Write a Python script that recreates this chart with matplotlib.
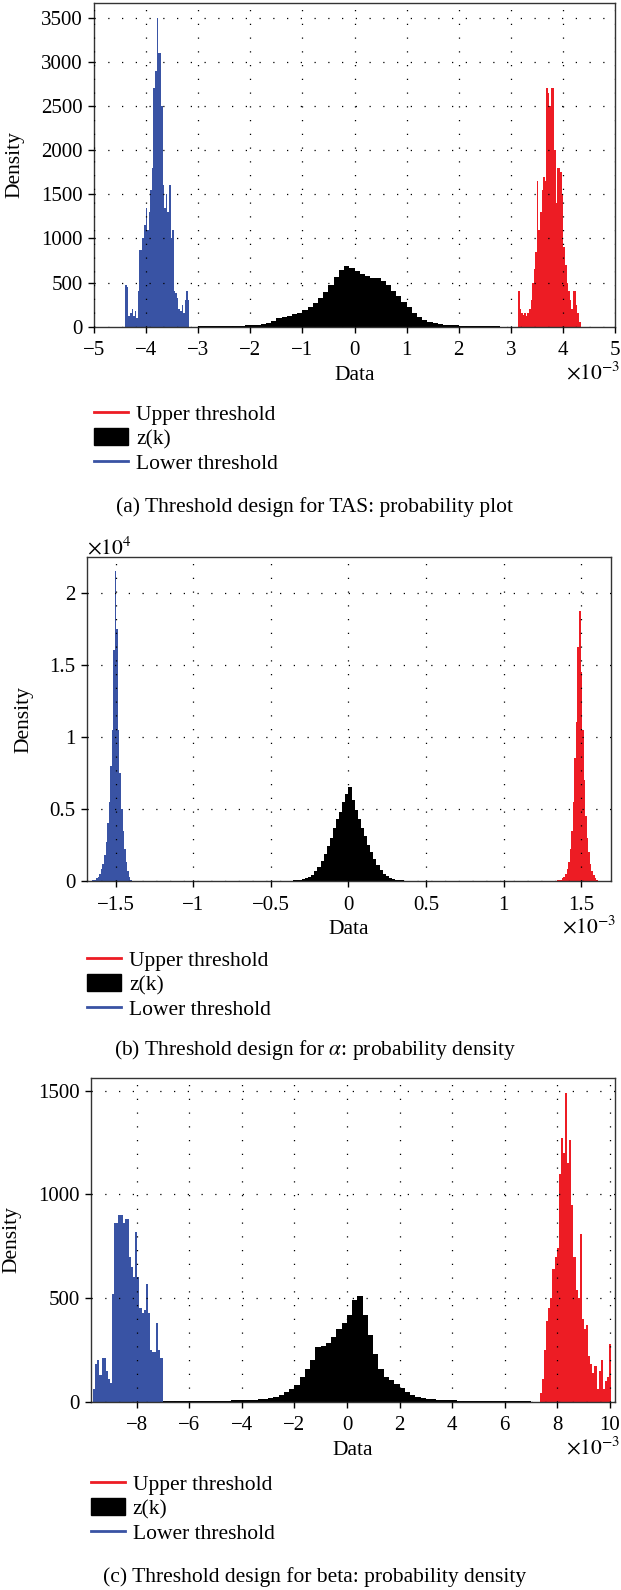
import numpy as np
import matplotlib
matplotlib.use("Agg")
import matplotlib.pyplot as plt
from matplotlib.lines import Line2D
from matplotlib.patches import Patch
from matplotlib.ticker import FuncFormatter

plt.rcParams["font.family"] = ["Liberation Serif", "DejaVu Serif"]
plt.rcParams["mathtext.fontset"] = "stix"

# ---- data (x in units of 1e-3) ----
# (a) TAS
tas_z_start, tas_z_width = -3.0, 0.1
tas_z = [3, 3, 4, 4, 5, 6, 8, 10, 12, 15, 18, 22, 30, 45, 70, 95, 110, 125, 140, 160,
         185, 220, 265, 320, 390, 470, 560, 640, 690, 670, 630, 600, 575, 555, 550, 520, 470, 410, 350, 280,
         220, 160, 115, 80, 55, 38, 28, 22, 18, 15, 13, 11, 9, 8, 6, 5, 4, 3, 2, 2]
tas_low_start, tas_low_width = -4.40, 0.03
tas_low = [470, 450, 120, 150, 200, 120, 180, 100, 400, 870, 870, 1000, 1150, 1350, 1100, 1300, 1550,
           1800, 2700, 2900, 3500, 3100, 3100, 2500, 1600, 1350, 1500, 1300, 1600, 1000, 1100, 400, 380,
           330, 200, 180, 250, 150, 300, 400, 300]
tas_up_start, tas_up_width = 3.14, 0.03
tas_up = [400, 200, 150, 130, 150, 120, 150, 200, 300, 500, 650, 850, 1650, 1100, 1300, 1550, 1700,
          1650, 2700, 2650, 2500, 2700, 2700, 2000, 1400, 1800, 1800, 1750, 1500, 900, 700, 500, 400,
          300, 200, 400, 400, 250, 150, 50]

# (b) alpha (density in units of 1e4)
alpha_z_start, alpha_z_width = -0.50, 0.02
alpha_z = [0.001, 0.001, 0.001, 0.001, 0.002, 0.002, 0.003, 0.004, 0.006, 0.009, 0.013, 0.02, 0.03,
           0.045, 0.07, 0.10, 0.14, 0.19, 0.24, 0.30, 0.37, 0.43, 0.48, 0.55, 0.60,
           0.65, 0.56, 0.49, 0.43, 0.37, 0.31, 0.25, 0.20, 0.15, 0.11, 0.075, 0.05, 0.033, 0.022,
           0.014, 0.009, 0.006, 0.004, 0.003, 0.002, 0.002, 0.001, 0.001, 0.001, 0.001]
alpha_low_start, alpha_low_width = -1.655, 0.01
alpha_low = [0.005, 0.01, 0.01, 0.02, 0.03, 0.05, 0.08, 0.12, 0.18, 0.27, 0.40, 0.55, 0.80, 1.05,
             1.60, 2.15, 1.75, 1.05, 0.75, 0.50, 0.35, 0.22, 0.13, 0.07, 0.03, 0.01]
alpha_up_start, alpha_up_width = 1.345, 0.01
alpha_up = [0.005, 0.01, 0.01, 0.02, 0.03, 0.05, 0.08, 0.13, 0.22, 0.35, 0.55, 0.85, 1.10, 1.62,
            1.87, 1.45, 1.05, 0.70, 0.45, 0.30, 0.20, 0.12, 0.07, 0.04, 0.02, 0.01]

# (c) beta
beta_z_start, beta_z_width = -7.0, 0.2
beta_z = [2, 2, 2, 2, 2, 2, 2, 3, 3, 3, 4, 4, 5, 6, 7, 8, 9, 10, 12, 15,
          18, 22, 30, 45, 60, 80, 120, 160, 200, 265, 270, 285, 310, 350, 380, 420, 490, 510, 420, 320,
          230, 160, 120, 105, 85, 65, 45, 32, 25, 18, 14, 11, 9, 8, 7, 6, 5, 4, 4, 3,
          3, 3, 2, 2, 2, 2, 2, 2, 2, 2]
beta_low_start, beta_low_width = -9.66, 0.08
beta_low = [60, 180, 200, 130, 210, 210, 150, 110, 90, 520, 860, 860, 900, 900, 860, 880, 880, 700,
            650, 600, 820, 600, 450, 430, 440, 570, 430, 250, 240, 240, 380, 250, 210]
beta_up_start, beta_up_width = 7.34, 0.08
beta_up = [40, 110, 250, 390, 450, 500, 640, 700, 740, 1100, 1270, 1200, 1490, 1150, 1260, 950, 700,
           540, 500, 810, 400, 350, 370, 220, 180, 140, 170, 60, 150, 200, 60, 100, 120, 280]

legend_labels = ["Upper threshold", "z(k)", "Lower threshold"]
captions = ["(a) Threshold design for TAS: probability plot",
            "(b) Threshold design for $\\alpha$: probability density",
            "(c) Threshold design for beta: probability density"]

RED = "#ed1c24"
BLUE = "#3953a4"

W, H = 621, 1590
fig = plt.figure(figsize=(W / 100, H / 100), dpi=100)


def box(l, t, r, b):
    return [l / W, 1 - b / H, (r - l) / W, (b - t) / H]


def fmt(v, pos):
    return f"{v:g}".replace("-", "\u2212")


def edges(start, width, n):
    return np.linspace(start, start + width * n, n + 1)


def panel(rect, series, xlim, xticks, ylim, yticks):
    ax = fig.add_axes(rect)
    for (start, width, vals), c in zip(series, [BLUE, "black", RED]):
        ax.stairs(vals, edges(start, width, len(vals)), fill=True, color=c, lw=0)
    ax.set_xlim(*xlim)
    ax.set_ylim(*ylim)
    ax.set_xticks(xticks)
    ax.set_yticks(yticks)
    ax.xaxis.set_major_formatter(FuncFormatter(fmt))
    ax.yaxis.set_major_formatter(FuncFormatter(fmt))
    ax.grid(True, color="black", linestyle=(0, (1, 10)), linewidth=0.9)
    ax.set_axisbelow(False)
    ax.tick_params(direction="out", length=4, width=1, labelsize=15, colors="black")
    ax.tick_params(axis="x", pad=6.5)
    ax.tick_params(axis="y", pad=4)
    for s in ax.spines.values():
        s.set_linewidth(1)
        s.set_color("#333333")
    ax.set_xlabel("Data", fontsize=15.5, labelpad=4)
    ax.set_ylabel("Density", fontsize=15.5, labelpad=12)
    ax.text(1.011, -0.143, "$\\times10^{-3}$", transform=ax.transAxes, ha="right", va="center",
            fontsize=15.5)
    return ax


def add_legend(x, y):
    handles = [Line2D([], [], color=RED, lw=2),
               Patch(facecolor="black", edgecolor="black"),
               Line2D([], [], color=BLUE, lw=2)]
    fig.legend(handles, legend_labels, loc="upper left", bbox_to_anchor=(x / W, 1 - y / H),
               frameon=False, fontsize=15.5, handlelength=1.6, handleheight=0.85,
               handletextpad=0.35, labelspacing=0.15, borderpad=0, borderaxespad=0)


# (a)
panel(box(94, 3.3, 615, 326.7),
      [(tas_low_start, tas_low_width, tas_low), (tas_z_start, tas_z_width, tas_z),
       (tas_up_start, tas_up_width, tas_up)],
      (-5, 5), range(-5, 6), (0, 3663), range(0, 3501, 500))
add_legend(94, 404)
fig.text(315 / W, 1 - 507 / H, captions[0], ha="center", va="center", fontsize=15.5)

# (b)
axb = panel(box(86.9, 557.3, 610.8, 881),
            [(alpha_low_start, alpha_low_width, alpha_low), (alpha_z_start, alpha_z_width, alpha_z),
             (alpha_up_start, alpha_up_width, alpha_up)],
            (-1.685, 1.69), [-1.5, -1, -0.5, 0, 0.5, 1, 1.5], (0, 2.245), [0, 0.5, 1, 1.5, 2])
axb.text(0.0, 1.029, "$\\times10^{4}$", transform=axb.transAxes, ha="left", va="center", fontsize=15.5)
add_legend(86.9, 950)
fig.text(315 / W, 1 - 1050 / H, captions[1], ha="center", va="center", fontsize=15.5)

# (c)
panel(box(90.8, 1078.3, 614.7, 1401.7),
      [(beta_low_start, beta_low_width, beta_low), (beta_z_start, beta_z_width, beta_z),
       (beta_up_start, beta_up_width, beta_up)],
      (-9.75, 10.19), range(-8, 11, 2), (0, 1560), range(0, 1501, 500))
add_legend(90.8, 1474)
fig.text(315 / W, 1 - 1577 / H, captions[2], ha="center", va="center", fontsize=15.5)

fig.savefig("out.png", dpi=100)
